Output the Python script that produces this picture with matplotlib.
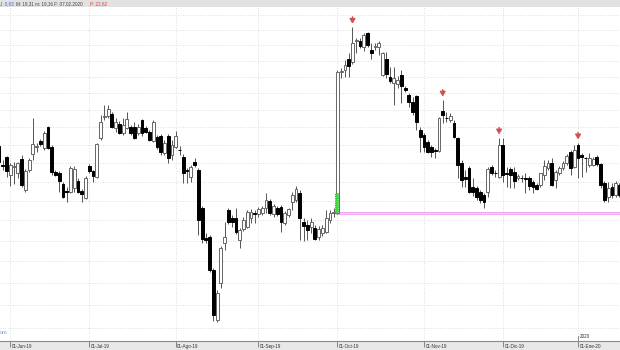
import numpy as np
import matplotlib.pyplot as plt
from matplotlib.patches import Rectangle
from matplotlib import transforms

plt.rcParams['font.family'] = ['Liberation Sans', 'DejaVu Sans']

# daily OHLC, late May 2019 .. mid Jan 2020 (one candle per trading day)
opens = [19.47, 18.94, 19.16, 18.67, 18.89, 18.73, 19.11, 18.28, 18.81, 19.25,
         19.44, 19.61, 19.42, 20.01, 19.44, 18.76, 18.73, 18.44, 18.25, 18.23,
         18.33, 18.51, 18.25, 18.07, 18.92, 18.78, 18.62, 19.70, 20.30, 20.33,
         20.38, 19.98, 20.09, 19.84, 19.98, 20.01, 20.01, 19.84, 20.21, 19.98,
         19.86, 19.61, 19.72, 19.75, 19.28, 19.75, 19.22, 19.44, 19.36, 19.16,
         18.81, 18.62, 19.03, 18.81, 17.81, 17.07, 17.08, 16.30, 15.17, 15.99,
         16.94, 17.76, 17.56, 17.56, 17.01, 17.28, 17.33, 17.56, 17.68, 17.66,
         17.68, 17.81, 17.99, 17.66, 17.81, 17.84, 17.43, 17.63, 17.97, 18.02,
         18.20, 17.46, 17.38, 17.33, 17.31, 17.08, 17.18, 17.21, 17.51, 17.68,
         17.68, 21.65, 21.71, 22.06, 21.97, 22.64, 22.64, 22.44, 22.89, 22.34,
         22.44, 22.44, 21.56, 22.06, 21.49, 21.31, 21.28, 21.56, 21.16, 20.95,
         20.74, 20.92, 19.92, 19.78, 19.58, 19.44, 19.36, 19.33, 20.47, 20.27,
         20.21, 20.12, 19.70, 19.00, 18.62, 18.86, 18.36, 18.33, 18.23, 18.15,
         18.23, 18.89, 18.74, 18.62, 19.50, 18.73, 18.84, 18.76, 18.59, 18.60,
         18.59, 18.59, 18.49, 18.41, 18.41, 18.67, 18.86, 19.00, 18.54, 18.73,
         18.86, 19.00, 19.30, 18.89, 19.50, 19.22, 19.14, 18.94, 18.94, 19.16,
         18.97, 18.46, 18.10, 18.36, 18.15, 18.41]
highs = [19.53, 19.08, 19.19, 19.00, 19.03, 19.03, 19.22, 18.84, 19.14, 20.27,
         19.56, 19.67, 19.89, 20.04, 19.50, 18.81, 18.78, 18.49, 18.36, 18.92,
         18.92, 18.59, 18.31, 18.65, 18.97, 18.81, 19.56, 20.36, 20.65, 20.65,
         20.44, 20.27, 20.18, 20.27, 20.44, 20.06, 20.15, 20.09, 20.24, 20.04,
         19.92, 20.21, 19.78, 19.81, 19.64, 19.81, 19.64, 19.89, 19.47, 19.25,
         18.86, 18.94, 19.14, 18.86, 17.86, 17.18, 17.13, 16.35, 15.83, 16.87,
         17.46, 17.81, 17.63, 17.81, 17.31, 17.58, 17.76, 17.79, 17.76, 17.84,
         17.86, 18.20, 18.05, 17.92, 17.86, 17.89, 17.73, 17.81, 18.23, 18.38,
         18.28, 17.56, 17.51, 17.56, 17.38, 17.36, 17.38, 17.76, 17.76, 17.81,
         21.71, 21.77, 22.03, 22.25, 23.09, 22.73, 22.73, 22.89, 22.93, 22.57,
         22.57, 22.64, 22.28, 22.28, 21.81, 21.81, 21.52, 21.71, 21.22, 21.01,
         20.89, 20.95, 20.01, 19.84, 19.64, 19.50, 19.42, 20.30, 20.80, 20.44,
         20.41, 20.21, 19.72, 19.08, 18.81, 18.92, 18.59, 18.38, 18.28, 18.20,
         18.89, 18.94, 18.80, 19.70, 19.70, 18.89, 18.89, 18.89, 18.70, 18.68,
         18.73, 18.65, 18.54, 18.46, 18.49, 19.08, 19.08, 19.14, 18.81, 18.92,
         19.06, 19.25, 19.36, 19.50, 19.56, 19.28, 19.16, 19.28, 19.16, 19.22,
         19.00, 18.51, 18.49, 18.46, 18.51, 18.46]
lows = [19.00, 18.81, 18.62, 18.38, 18.44, 18.59, 18.36, 18.23, 18.76, 19.08,
        19.30, 19.47, 19.36, 19.39, 18.67, 18.65, 18.23, 18.07, 17.97, 18.20,
        18.23, 18.20, 17.97, 18.05, 18.73, 18.49, 18.59, 19.64, 20.21, 20.27,
        19.98, 19.86, 19.81, 19.78, 19.95, 19.78, 19.67, 19.78, 19.75, 19.84,
        19.61, 19.58, 19.39, 19.22, 19.22, 19.00, 19.08, 19.42, 19.22, 18.46,
        18.46, 18.49, 18.89, 17.13, 16.94, 16.94, 16.25, 15.15, 15.13, 15.88,
        16.77, 17.41, 17.33, 17.16, 16.82, 17.23, 17.31, 17.43, 17.43, 17.58,
        17.63, 17.68, 17.63, 17.58, 17.61, 17.21, 17.38, 17.58, 17.76, 17.97,
        17.01, 16.99, 17.01, 17.18, 17.01, 17.01, 17.11, 17.18, 17.43, 17.58,
        17.66, 21.46, 21.49, 21.49, 21.90, 22.25, 22.41, 22.31, 22.44, 22.06,
        22.34, 22.18, 21.52, 21.46, 21.31, 20.65, 21.16, 20.71, 21.04, 20.59,
        20.36, 19.92, 19.30, 19.30, 19.28, 19.16, 19.14, 19.30, 20.12, 20.15,
        20.15, 19.70, 18.59, 18.36, 18.36, 18.20, 18.12, 18.02, 17.94, 17.81,
        18.10, 18.67, 18.62, 18.59, 18.49, 18.36, 18.33, 18.33, 18.54, 18.50,
        18.20, 18.28, 18.20, 18.28, 18.36, 18.54, 18.81, 18.38, 18.33, 18.67,
        18.81, 18.94, 18.67, 18.86, 18.59, 18.62, 18.76, 18.89, 18.92, 18.92,
        18.33, 17.97, 17.97, 18.07, 18.10, 18.10]
closes = [19.03, 18.92, 18.78, 18.94, 18.92, 19.00, 18.41, 18.78, 19.08, 19.53,
          19.47, 19.53, 19.84, 19.42, 18.76, 18.67, 18.51, 18.10, 18.24, 18.86,
          18.84, 18.23, 18.18, 18.59, 18.78, 18.65, 19.53, 20.15, 20.33, 20.53,
          20.01, 20.15, 19.84, 20.06, 20.24, 19.84, 19.70, 20.01, 19.84, 19.86,
          19.64, 20.15, 19.44, 19.30, 19.56, 19.14, 19.50, 19.75, 19.35, 18.73,
          18.78, 18.89, 18.94, 17.51, 17.03, 17.02, 16.30, 15.28, 15.76, 16.82,
          17.08, 17.46, 17.46, 17.21, 17.26, 17.51, 17.71, 17.71, 17.66, 17.79,
          17.81, 18.02, 17.68, 17.86, 17.66, 17.46, 17.68, 17.79, 18.15, 18.31,
          17.56, 17.36, 17.26, 17.46, 17.03, 17.28, 17.31, 17.56, 17.68, 17.71,
          21.65, 21.68, 21.87, 21.84, 22.57, 22.67, 22.47, 22.83, 22.50, 22.25,
          22.47, 22.57, 22.25, 21.59, 21.37, 21.46, 21.40, 21.22, 21.10, 20.74,
          20.44, 20.15, 19.72, 19.44, 19.30, 19.30, 19.33, 20.27, 20.36, 20.26,
          20.33, 19.72, 18.94, 18.54, 18.57, 18.23, 18.23, 18.10, 18.02, 17.97,
          18.84, 18.73, 18.72, 19.50, 18.67, 18.70, 18.67, 18.51, 18.65, 18.59,
          18.58, 18.38, 18.36, 18.31, 18.73, 18.92, 19.00, 18.41, 18.76, 18.86,
          19.00, 19.19, 18.86, 19.36, 19.14, 19.16, 19.13, 19.14, 19.10, 18.97,
          18.41, 18.02, 18.33, 18.15, 18.46, 18.15]

month_pos = [3, 24, 47, 69, 90, 113, 134, 154]
month_labels = ['01-Jun-19', '01-Jul-19', '01-Ago-19', '01-Sep-19',
                '01-Oct-19', '01-Nov-19', '01-Dic-19', '01-Ene-20']
arrow_pos = [94, 118, 133, 154]      # candles flagged with a red arrow
gap_start = 89.3                     # green box / support line start
gap_low, gap_high = 17.69, 18.19
support_low, support_high = 17.65, 17.72

o = np.array(opens)
h = np.array(highs)
l = np.array(lows)
c = np.array(closes)
x = np.arange(len(o))
up = c >= o

fig = plt.figure(figsize=(6.2, 3.5), dpi=100)
ax = fig.add_axes([0, 9 / 350, 1, 334 / 350])
ax.set_yscale('log')
ax.set_xlim(0.25, 165.15)
ax.set_ylim(14.72, 23.77)

# dotted grid
for lvl in np.arange(15.0, 24.0, 0.5):
    ax.axhline(lvl, color='#d4d4d4', lw=0.6, ls=(0, (1, 2)), zorder=0)
for m in month_pos:
    ax.axvline(m, color='#d4d4d4', lw=0.6, ls=(0, (1, 2)), zorder=0)

# support band
ax.fill_between([gap_start, 165.15], support_low, support_high,
                color='#fbd3f8', lw=0, zorder=1)
ax.hlines([support_low, support_high], gap_start, 165.15,
          color='#f09af0', lw=0.6, zorder=1)

# candles
ax.vlines(x, l, h, color='#555555', lw=0.7, zorder=2)
bot = np.minimum(o, c)
hgt = np.abs(c - o)
ax.bar(x[up], hgt[up], bottom=bot[up], width=0.75, facecolor='white',
       edgecolor='#666666', lw=0.7, zorder=3)
ax.bar(x[~up], hgt[~up], bottom=bot[~up], width=0.75, facecolor='black',
       edgecolor='black', lw=0.7, zorder=3)

ax.add_patch(Rectangle((gap_start, gap_low), 0.95, gap_high - gap_low,
                       facecolor='#33e033', edgecolor='#1f8f1f', lw=0.6,
                       ls=':', zorder=4))

for k in arrow_pos:
    ax.annotate('', xy=(k, h[k]), xytext=(0, 7.5), textcoords='offset points',
                arrowprops=dict(arrowstyle='-|>,head_width=0.17,head_length=0.28',
                                color='#cf5250', lw=1.0, shrinkA=0, shrinkB=2.5,
                                mutation_scale=10))

# axes cosmetics
for s in ['top', 'left', 'right']:
    ax.spines[s].set_visible(False)
ax.spines['bottom'].set_color('#8a8a8a')
ax.spines['bottom'].set_linewidth(0.8)
ax.set_yticks([])
ax.yaxis.set_minor_locator(plt.NullLocator())
ax.set_xticks(month_pos)
ax.set_xticklabels([])
ax.tick_params(axis='x', length=4, width=0.6, color='#777777', direction='out')

lab_tr = transforms.offset_copy(ax.get_xaxis_transform(), fig=fig, x=1.5, y=0, units='dots')
for m, lab in zip(month_pos, month_labels):
    ax.text(m, -0.017, lab, transform=lab_tr, ha='left', va='center',
            fontsize=3.3, color='#333333')
ax.text(154, 0.013, '2020', transform=lab_tr, ha='left', va='center',
        fontsize=3.3, color='#333333')
ax.plot([154, 154], [0, 0.016], transform=ax.get_xaxis_transform(),
        color='#777777', lw=0.6, clip_on=False)
ax.text(0.0, 0.024, 'om', transform=ax.transAxes, ha='left', va='center',
        fontsize=4, color='#7b95d9')

# header and footer bands
fig.add_artist(Rectangle((0, 1 - 7 / 350), 1, 7 / 350, transform=fig.transFigure,
                         facecolor='#e2e2e2', edgecolor='none', zorder=0))
fig.add_artist(Rectangle((0, 0), 1, 9 / 350, transform=fig.transFigure,
                         facecolor='#e8e8e8', edgecolor='none', zorder=0))
hy = 1 - 3.8 / 350
fig.text(0.5 / 620, hy, 'J: 0,83', color='#3c6fd1', fontsize=3.3, va='center')
fig.text(16 / 620, hy, 'M: 19,31 m: 19,16 F: 07.02.2020', color='#444444',
         fontsize=3.3, va='center')
fig.text(90 / 620, hy, 'P: 22,62', color='#e03c3c', fontsize=3.3, va='center')

fig.savefig('out.png', dpi=100)
